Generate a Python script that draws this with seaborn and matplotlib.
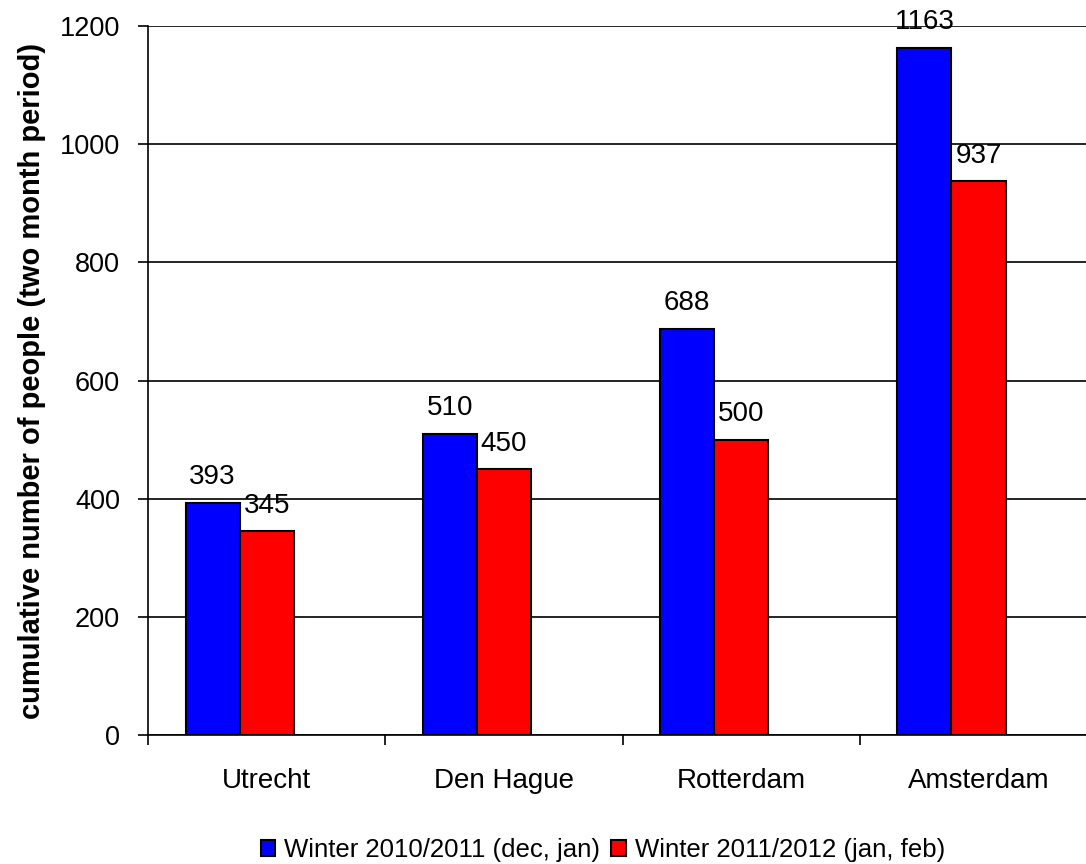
import pandas as pd
import matplotlib.pyplot as plt
import seaborn as sns
from matplotlib.ticker import FixedLocator

# data
cities = ['Utrecht', 'Den Hague', 'Rotterdam', 'Amsterdam']
winter_1011 = [393, 510, 688, 1163]
winter_1112 = [345, 450, 500, 937]
series = ['Winter 2010/2011 (dec, jan)', 'Winter 2011/2012 (jan, feb)']
# the original excel chart reserves a slot for a third, empty series
hue_levels = series + ['(empty)']

df = pd.DataFrame({
    'city': cities * 2,
    'value': winter_1011 + winter_1112,
    'series': [series[0]] * 4 + [series[1]] * 4,
})

sns.set_style('white')
plt.rcParams['font.family'] = ['Liberation Sans', 'DejaVu Sans']
for k in ['text.color', 'axes.labelcolor', 'xtick.color', 'ytick.color']:
    plt.rcParams[k] = 'black'

fig = plt.figure(figsize=(10.86, 8.64), dpi=100)
ax = fig.add_axes([0.1363, 0.1493, 0.874, 0.8206])

pal = {series[0]: '#0000FF', series[1]: '#FF0000', '(empty)': 'white'}
sns.barplot(data=df, x='city', y='value', hue='series', hue_order=hue_levels,
            palette=pal, width=0.684, edgecolor='black', linewidth=1.5,
            saturation=1, legend=False, ax=ax, zorder=3)

# value labels above bars
for cont in ax.containers:
    ax.bar_label(cont, padding=9, fontsize=20)

ax.set_ylim(0, 1200)
ax.set_xlim(-0.5, 3.5)
ax.set_yticks(range(0, 1201, 200))
ax.yaxis.grid(True, color='black', linewidth=1.2, zorder=0)
ax.set_axisbelow(True)

# x ticks sit between categories (excel style)
ax.xaxis.set_minor_locator(FixedLocator([-0.5, 0.5, 1.5, 2.5]))
ax.tick_params(axis='x', which='major', length=0, pad=24, labelsize=20)
ax.tick_params(axis='x', which='minor', length=7, width=1.2, direction='out', bottom=True)
ax.tick_params(axis='y', length=7, width=1.2, direction='out', left=True, labelsize=19.5, pad=13)

for s in ['top', 'right']:
    ax.spines[s].set_visible(False)
for s in ['left', 'bottom']:
    ax.spines[s].set_color('black')
    ax.spines[s].set_linewidth(1.2)

ax.set_xlabel('')
ax.set_ylabel('cumulative number of people (two month period)', fontsize=21,
              fontweight='bold', labelpad=10)

handles = [ax.containers[0].patches[0], ax.containers[1].patches[0]]
fig.legend(handles, series, loc='center', bbox_to_anchor=(0.555, 0.0162), ncol=2,
           frameon=False, fontsize=18.5, handlelength=0.55, handleheight=0.55,
           handletextpad=0.35, columnspacing=0.45, borderaxespad=0)

fig.savefig('out.png', dpi=100)
